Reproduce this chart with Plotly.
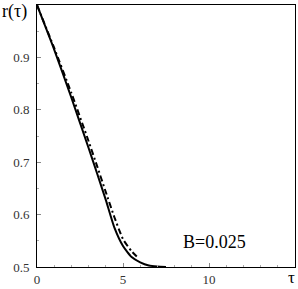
import plotly.graph_objects as go

# Data
tau_solid = [0, 1, 2, 3, 3.5, 4, 4.5, 5, 5.5, 6, 6.5, 7, 7.5]
r_solid = [1.0, 0.915, 0.823, 0.727, 0.678, 0.628, 0.575, 0.540, 0.519, 0.509, 0.503, 0.501, 0.500]

tau_dash = [0, 1, 2, 3, 3.5, 4, 4.5, 5, 5.5, 5.8]
r_dash = [1.0, 0.918, 0.832, 0.740, 0.692, 0.643, 0.595, 0.553, 0.530, 0.520]

x_ticks = [0, 5, 10]
y_ticks = [0.5, 0.6, 0.7, 0.8, 0.9]
y_tick_labels = ["0.5", "0.6", "0.7", "0.8", "0.9"]

fig = go.Figure()
fig.add_trace(go.Scatter(x=tau_solid, y=r_solid, mode="lines",
                         line=dict(color="black", width=2, shape="spline", smoothing=0.5),
                         showlegend=False))
fig.add_trace(go.Scatter(x=tau_dash, y=r_dash, mode="lines",
                         line=dict(color="black", width=2, dash="6px,3px,2px,3px",
                                   shape="spline", smoothing=0.5),
                         showlegend=False))

font = dict(family="Liberation Serif, Times New Roman, serif", size=13, color="#333")

fig.update_xaxes(range=[0, 15], tickvals=x_ticks, ticktext=[str(v) for v in x_ticks],
                 ticks="inside", ticklen=4, tickcolor="#888", tickfont=font,
                 showline=True, linecolor="black", linewidth=1, mirror=True,
                 showgrid=False, zeroline=False,
                 minor=dict(dtick=1, ticks="inside", ticklen=2, tickcolor="#aaa", showgrid=False))
fig.update_yaxes(range=[0.5, 1.0], tickvals=y_ticks, ticktext=y_tick_labels,
                 ticks="inside", ticklen=4, tickcolor="#888", tickfont=font,
                 showline=True, linecolor="black", linewidth=1, mirror=True,
                 showgrid=False, zeroline=False, ticklabelstandoff=4,
                 minor=dict(dtick=0.05, ticks="inside", ticklen=2, tickcolor="#aaa", showgrid=False))

fig.add_annotation(text="r(τ)", xref="paper", yref="paper", x=-0.145, y=1.0, yshift=6,
                   xanchor="left", yanchor="top", showarrow=False,
                   font=dict(family="Liberation Serif, serif", size=18, color="black"))
fig.add_annotation(text="τ", xref="paper", yref="paper", x=1.0, y=0, yshift=-22, xshift=2,
                   xanchor="right", yanchor="bottom", showarrow=False,
                   font=dict(family="Liberation Serif, serif", size=17, color="black"))
fig.add_annotation(text="B=0.025", xref="x", yref="y", x=10.3, y=0.5475,
                   xanchor="center", yanchor="middle", showarrow=False,
                   font=dict(family="Liberation Serif, serif", size=18, color="black"))

fig.update_layout(width=298, height=289, margin=dict(l=37, r=3, t=5, b=22),
                  paper_bgcolor="white", plot_bgcolor="white")

fig.write_html("out.html", config={"displayModeBar": False},
               post_script="document.body.style.margin='0';document.body.style.overflow='hidden';")
